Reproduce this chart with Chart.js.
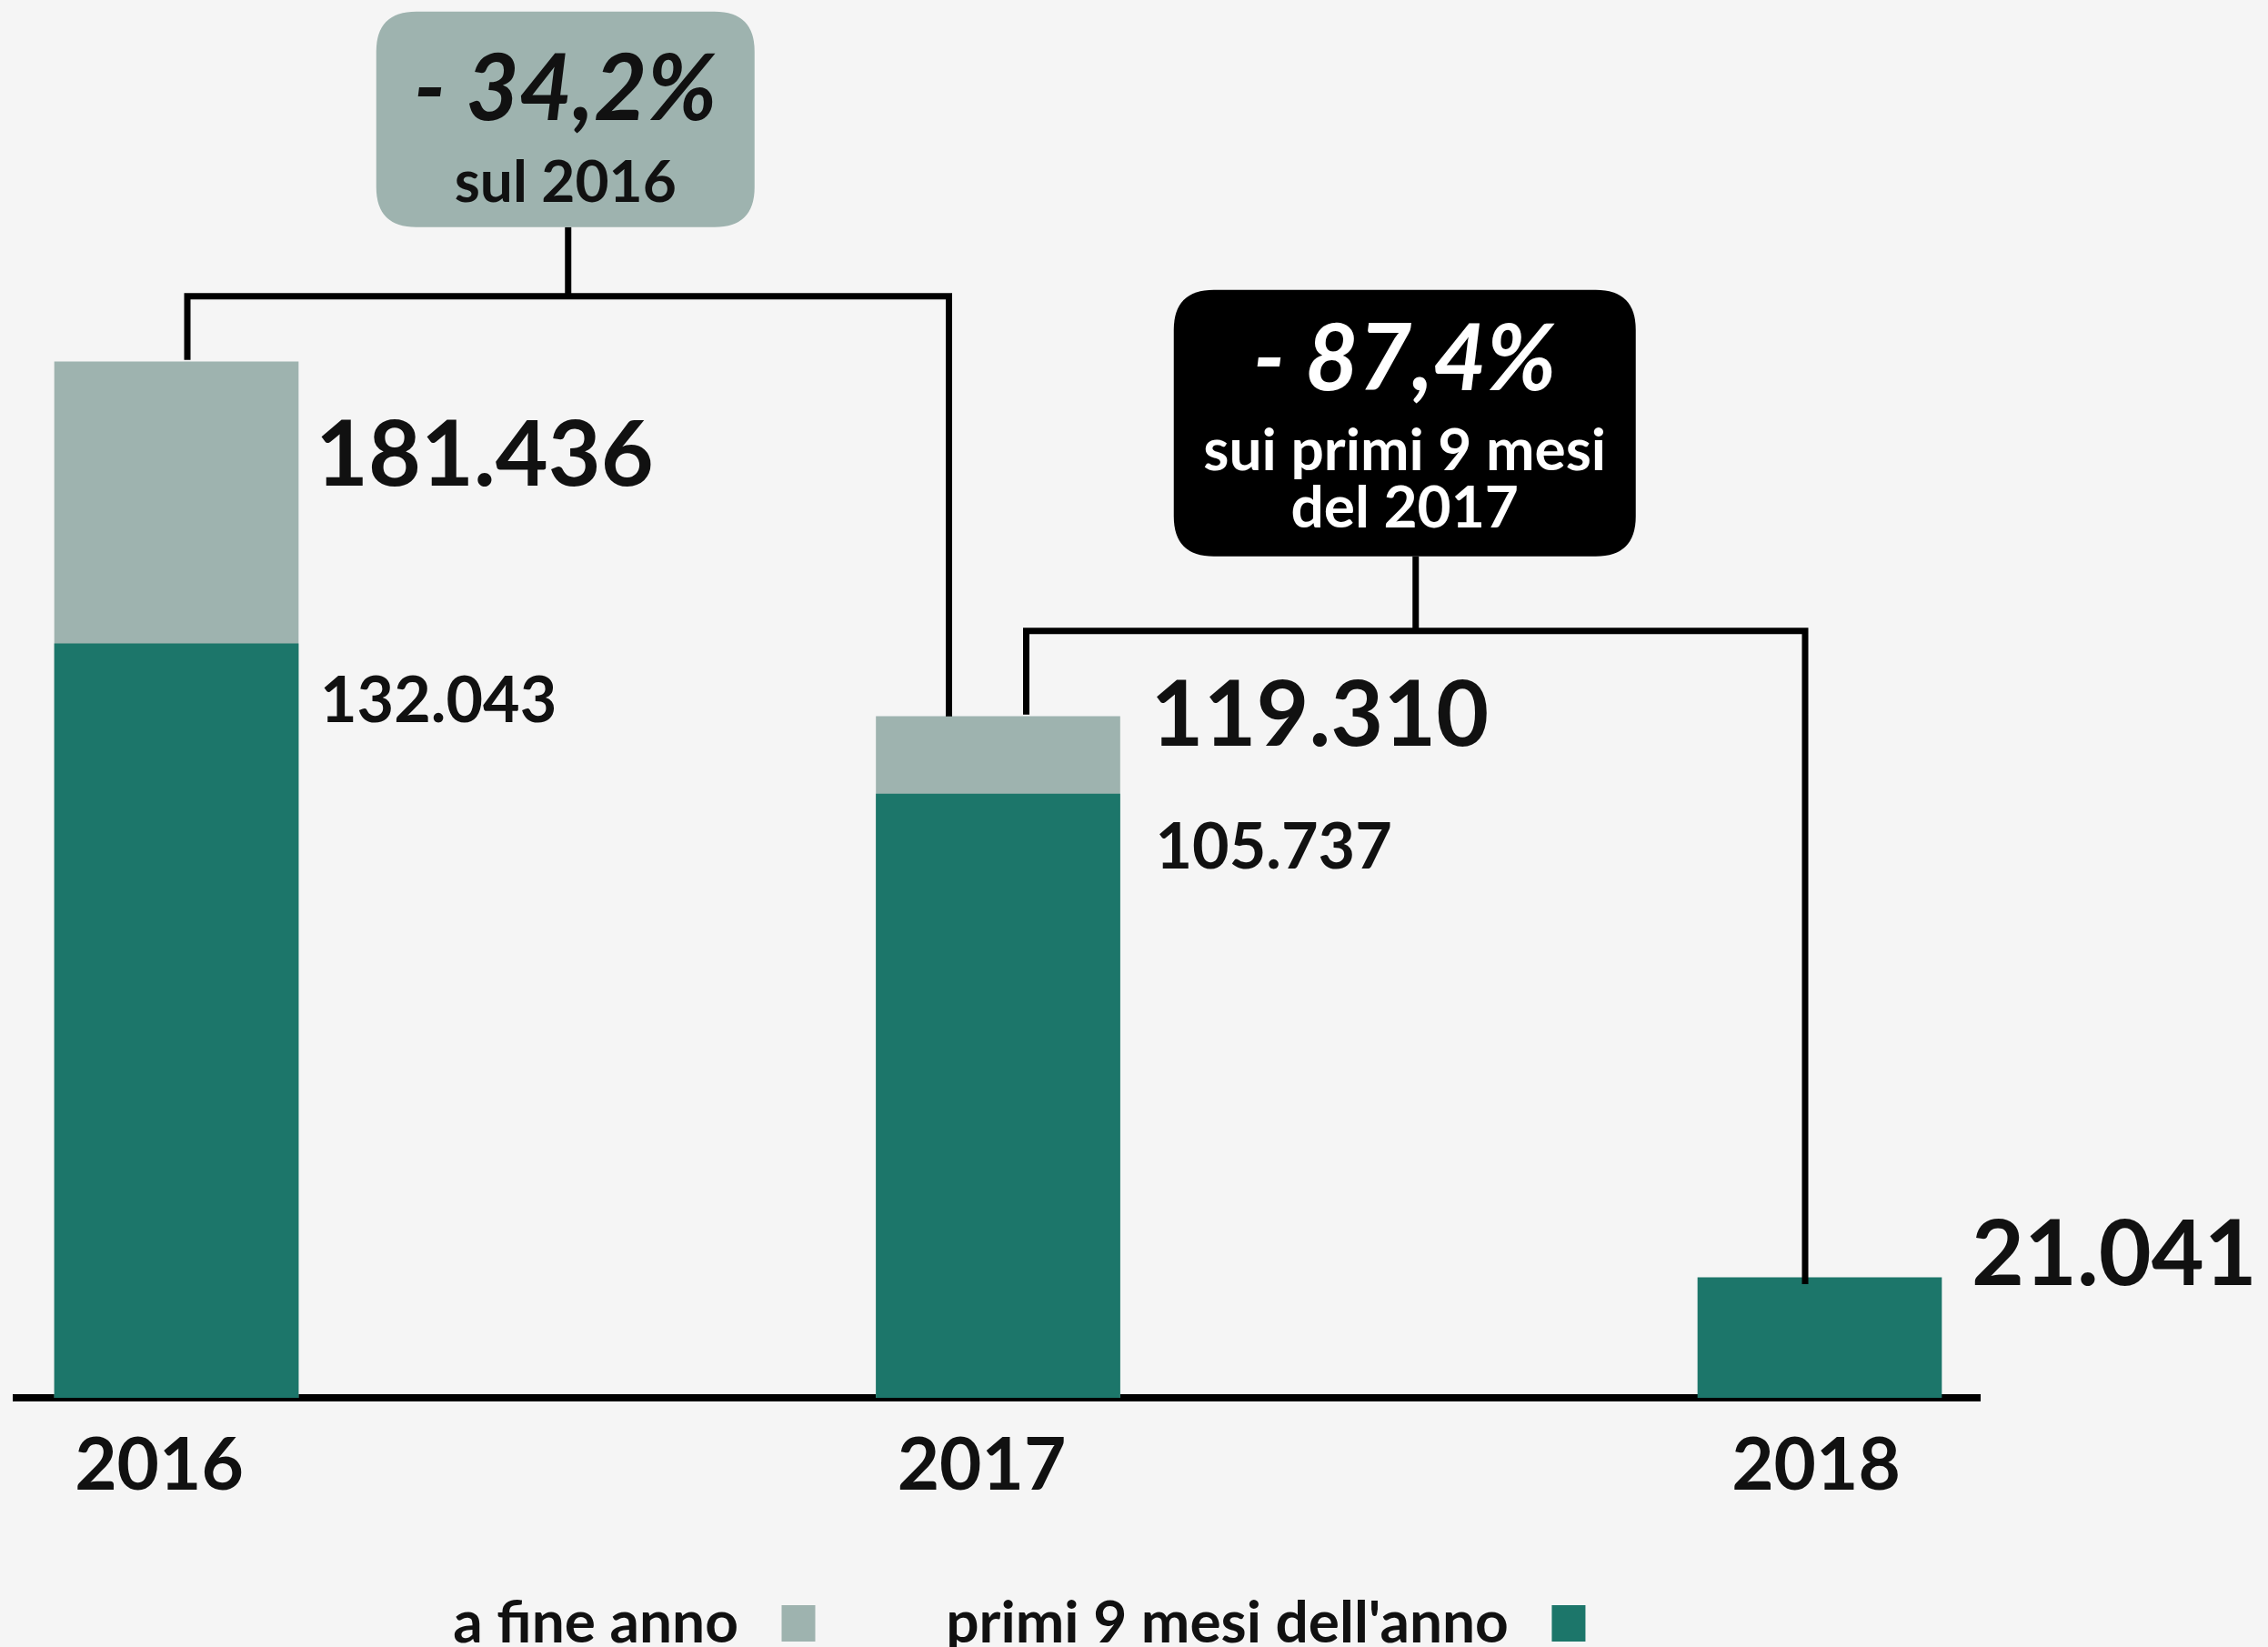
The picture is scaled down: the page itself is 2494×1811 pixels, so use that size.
<!DOCTYPE html>
<html>
<head>
<meta charset="utf-8">
<script src="https://cdn.jsdelivr.net/npm/chart.js@4.4.0/dist/chart.umd.min.js"></script>
<style>
  html, body { margin: 0; padding: 0; background: #f5f5f5; }
  #wrap { width: 2494px; height: 1811px; }
</style>
</head>
<body>
<div id="wrap"><canvas id="myChart" width="2494" height="1811"></canvas></div>
<script>
// values
var years = ['2016', '2017', '2018'];
var fineAnno = [181436, 119310, null];
var primiNove = [132043, 105737, 21041];
var changeMain = ['- 34,2%', '- 87,4%'];
var changeSub = [['sul 2016'], ['sui primi 9 mesi', 'del 2017']];

var GRAY = '#9eb3af';
var GREEN = '#1c766a';
var INK = '#111111';

// where the number labels sit, relative to the bar they belong to
var bigLabelPos = [{dx: 19, dy: 136}, {dx: 34, dy: 32}, {dx: 33, dy: 8}];
var smallLabelPos = [{dx: 24, dy: 86}, {dx: 39, dy: 82}];
// year labels are a little left of the bar centres (px)
var tickNudge = [-19, -18, -4];
var CAT_PX = 903.5;

// the two brackets with their boxes
var brackets = [
  {from: 0, to: 1, fromDx: 12, toDx: -54, rise: 72, endDy: 0, stem: 76, boxDx: -3,
   boxW: 416, boxH: 237, fill: GRAY, color: INK, mainBase: 119, subBase: 209},
  {from: 1, to: 2, fromDx: 31, toDx: -16, rise: 94, endDy: 7, stem: 82, boxDx: -12,
   boxW: 508, boxH: 293, fill: '#000000', color: '#ffffff', mainBase: 110, subBase: 198}
];

function fmt(v) {
  return String(v).replace(/\B(?=(\d{3})+(?!\d))/g, '.');
}

function roundBox(c, x, y, w, h, r) {
  c.beginPath();
  c.moveTo(x + r, y);
  c.lineTo(x + w - r, y);
  c.quadraticCurveTo(x + w, y, x + w, y + r);
  c.lineTo(x + w, y + h - r);
  c.quadraticCurveTo(x + w, y + h, x + w - r, y + h);
  c.lineTo(x + r, y + h);
  c.quadraticCurveTo(x, y + h, x, y + h - r);
  c.lineTo(x, y + r);
  c.quadraticCurveTo(x, y, x + r, y);
  c.closePath();
}

var callouts = {
  id: 'callouts',
  afterDraw: function (chart) {
    var c = chart.ctx;
    var nine = chart.getDatasetMeta(0).data;
    var full = chart.getDatasetMeta(1).data;
    function topBar(i) { return fineAnno[i] != null ? full[i] : nine[i]; }

    c.save();
    c.textBaseline = 'alphabetic';
    c.textAlign = 'left';
    c.fillStyle = INK;
    years.forEach(function (y, i) {
      var b = topBar(i), p = bigLabelPos[i];
      c.font = 'bold 100px Lato';
      c.fillText(fmt(fineAnno[i] != null ? fineAnno[i] : primiNove[i]), b.x + b.width / 2 + p.dx, b.y + p.dy);
      if (fineAnno[i] != null) {
        var n = nine[i], q = smallLabelPos[i];
        c.font = 'bold 70px Lato';
        c.fillText(fmt(primiNove[i]), n.x + n.width / 2 + q.dx, n.y + q.dy);
      }
    });

    brackets.forEach(function (k, j) {
      var a = topBar(k.from), b = topBar(k.to);
      var x1 = a.x + k.fromDx, x2 = b.x + k.toDx, yh = a.y - k.rise;
      c.strokeStyle = '#000';
      c.lineWidth = 7;
      c.lineJoin = 'miter';
      c.lineCap = 'butt';
      c.beginPath();
      c.moveTo(x1, a.y - 2);
      c.lineTo(x1, yh);
      c.lineTo(x2, yh);
      c.lineTo(x2, b.y + k.endDy);
      c.stroke();

      var sx = (x1 + x2) / 2;
      var boxBottom = yh - k.stem;
      var boxTop = boxBottom - k.boxH;
      var bx = sx + k.boxDx;
      c.beginPath();
      c.moveTo(sx, yh);
      c.lineTo(sx, boxBottom);
      c.stroke();

      roundBox(c, bx - k.boxW / 2, boxTop, k.boxW, k.boxH, 44);
      c.fillStyle = k.fill;
      c.fill();

      c.fillStyle = k.color;
      c.textAlign = 'center';
      c.font = 'italic bold 101px Lato';
      c.fillText(changeMain[j], bx, boxTop + k.mainBase);
      c.font = 'bold 64px Lato';
      changeSub[j].forEach(function (t, m) {
        c.fillText(t, bx, boxTop + k.subBase + m * 63);
      });
    });
    c.restore();
  }
};

var ctx = document.getElementById('myChart').getContext('2d');
var myChart = new Chart(ctx, {
  type: 'bar',
  data: {
    labels: years,
    datasets: [{
      label: "primi 9 mesi dell'anno",
      data: primiNove.map(function (v, i) { return {x: i, y: v}; }),
      backgroundColor: GREEN,
      borderWidth: 0
    }, {
      label: 'a fine anno',
      data: fineAnno.map(function (v, i) { return {x: i, y: v}; }),
      backgroundColor: GRAY,
      borderWidth: 0
    }]
  },
  options: {
    responsive: false,
    animation: false,
    grouped: false,
    barThickness: 268,
    layout: {
      padding: {left: 18, right: 317, top: 30, bottom: -16}
    },
    scales: {
      x: {
        type: 'linear',
        offset: false,
        min: -0.1948,
        max: 2.1948,
        grid: {display: false, drawTicks: false},
        border: {display: true, color: '#000', width: 8},
        afterBuildTicks: function (axis) {
          axis.ticks = years.map(function (y, i) { return {value: i + tickNudge[i] / CAT_PX}; });
        },
        ticks: {
          callback: function (v, i) { return years[i]; },
          font: {family: 'Lato', size: 80, weight: 'bold'},
          color: INK,
          padding: 27,
          autoSkip: false,
          maxRotation: 0
        }
      },
      y: {
        display: false,
        min: 0,
        max: 240000
      }
    },
    plugins: {
      legend: {
        position: 'bottom',
        rtl: true,
        labels: {
          font: {family: 'Lato', size: 64, weight: 'bold'},
          color: INK,
          boxWidth: 37,
          boxHeight: 40,
          padding: 66,
          generateLabels: function (chart) {
            var items = Chart.defaults.plugins.legend.labels.generateLabels(chart);
            // rtl bidi: trailing space ends up next to the box, leading ones before the text
            var lead = ['     ', '   '];
            items.forEach(function (it, i) { it.text = lead[i] + it.text + ' '; });
            return items;
          }
        }
      },
      tooltip: {enabled: false}
    }
  },
  plugins: [callouts]
});
</script>
</body>
</html>
